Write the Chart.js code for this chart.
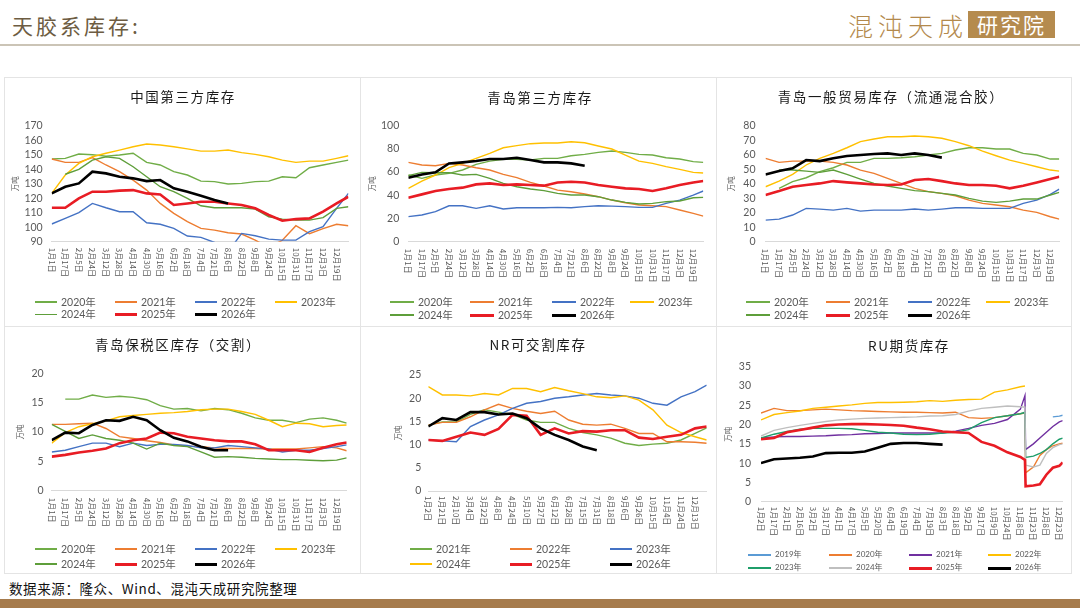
<!DOCTYPE html>
<html>
<head>
<meta charset="utf-8">
<script src="https://cdn.jsdelivr.net/npm/chart.js@4.4.1/dist/chart.umd.min.js"></script>
<style>
  body { margin: 0; width: 1080px; height: 608px; background: #fff; position: relative; overflow: hidden;
         font-family: "Noto Sans CJK SC", sans-serif; }
  .abs { position: absolute; }
  .ptitle { font-size: 13.5px; letter-spacing: 1.6px; color: #1a1a1a; text-align: center; width: 340px; line-height: 20px; white-space: nowrap; }
  .leg { font-family: Lato, "Noto Sans CJK SC", sans-serif; color: #595959; white-space: nowrap; }
  .hl { background: #e4e4e4; }
</style>
</head>
<body>
<div class="abs" style="left:12px;top:9px;font-size:21px;letter-spacing:3px;color:#6d5c42;line-height:32px;">天胶系库存:</div>
<div class="abs" style="left:848px;top:8px;font-size:25px;font-weight:300;letter-spacing:5px;color:#b3894c;line-height:34px;">混沌天成</div>
<div class="abs" style="left:968px;top:11px;width:87px;height:27px;background:#b58b4e;color:#fff;font-size:21px;line-height:27px;text-align:center;letter-spacing:2px;">研究院</div>
<div class="abs" style="left:0;top:44px;width:1080px;height:2px;background:#cbc4b6;"></div>

<div class="abs hl" style="left:4px;top:77px;width:1068px;height:1px;"></div>
<div class="abs hl" style="left:4px;top:573px;width:1068px;height:1px;"></div>
<div class="abs hl" style="left:4px;top:326px;width:1068px;height:1px;"></div>
<div class="abs hl" style="left:4px;top:77px;width:1px;height:497px;"></div>
<div class="abs hl" style="left:360px;top:77px;width:1px;height:497px;"></div>
<div class="abs hl" style="left:716px;top:77px;width:1px;height:497px;"></div>
<div class="abs hl" style="left:1071px;top:77px;width:1px;height:497px;"></div>

<div class="abs" style="left:9px;top:578px;font-size:13.5px;letter-spacing:0.6px;color:#111;line-height:20px;">数据来源：隆众、Wind、混沌天成研究院整理</div>
<div class="abs" style="left:0;top:599px;width:1080px;height:9px;background:#a67b4c;"></div>

<script>
// category labels
const LABELS_A = ['1月1日','1月17日','2月5日','2月24日','3月12日','3月28日','4月14日','4月30日','5月16日','6月2日','6月18日',
  '7月4日','7月21日','8月6日','8月22日','9月8日','9月24日','10月15日','10月31日','11月17日','12月3日','12月19日'];
const LABELS_NR = ['1月2日','1月21日','2月10日','3月4日','3月22日','4月8日','4月24日','5月10日','5月27日','6月12日','6月28日',
  '7月15日','7月31日','8月18日','9月6日','9月26日','10月15日','11月4日','11月24日','12月13日'];
const LABELS_RU = ['1月2日','1月17日','2月1日','2月16日','3月2日','3月17日','4月1日','4月17日','5月5日','5月20日','6月4日','6月19日',
  '7月4日','7月19日','8月3日','8月18日','9月2日','9月17日','10月9日','10月24日','11月8日','11月23日','12月8日','12月23日'];

// point positions on the label index axis (last one = year end)
const X_CN = [0,1,2,3,4,5,6,7,8,9,10,11,12,13,14,15,16,17,18,19,20,21,21.87];
const X_QD = [0,1,2,3,4,5,6,7,8,9,10,11,12,13,14,15,16,17,18,19,20,21,21.74];
const X_GM = [0,1,2,3,4,5,6,7,8,9,10,11,12,13,14,15,16,17,18,19,20,21,21.66];
const X_BS = [0,1,2,3,4,5,6,7,8,9,10,11,12,13,14,15,16,17,18,19,20,21,21.74];
const X_NR = [0,1,2,3,4,5,6,7,8,9,10,11,12,13,14,15,16,17,18,19,19.83];
const X_RU = [0,1,2,3,4,5,6,7,8,9,10,11,12,13,14,15,16,17,18,19,20,20.35,20.4,21,21.5,22,22.5,23,23.26];

// 中国第三方库存 (万吨)
const cn2020 = [147,147.5,150.5,150,149,149.8,151,144.7,142.9,138.3,136,131.8,131.4,129.8,130.2,131.4,131.8,134.8,134.1,141,142.9,144.7,146.3];
const cn2021 = [147,144.7,144.7,148,142.9,138.3,132.5,125.6,116.4,109.5,103.8,99.2,98,96.2,95.3,91.1,86,91,101,95.5,99,102,101];
const cn2022 = [102.2,106.1,110,116.4,113.4,110.7,110.7,103.1,102,99.2,93.9,93,89.5,83,95.7,94.1,91.8,91.1,91.1,96.9,100.3,113,123.3];
const cn2023 = [123.3,136,144,148.6,151,153.2,155.5,157.4,156.7,155.5,154,152.5,152.5,153.2,151.4,150.2,148.6,146.3,144.7,145.6,145.6,147.5,149.3];
const cn2024 = [null,136.5,139.9,146.3,148.6,147.5,141.7,134.8,127.9,124.5,119.9,114.8,113.4,113.4,113.4,112.5,107.2,105.6,104.9,104.9,106.6,113,114.1];
const cn2025 = [113.4,113.4,119.9,124.5,124.5,125.2,125.6,123.3,122.6,115.3,116.4,117.6,117.6,116.4,115.3,113,108.4,104.5,105.6,106.1,110.7,116.4,121];
const cn2026 = [123.3,127.9,130.2,138.3,137.1,134.8,133.7,131.8,132.5,126.8,124.5,121.7,118.7,116.4];

// 青岛第三方库存
const qd2020 = [57.5,54.6,57.5,58.9,61.8,66.7,69.5,71,71,70.4,71.8,71.8,74.1,75.3,77,78.2,77,75.3,74.7,72.4,71.3,69,68.4];
const qd2021 = [68.4,66.1,65.5,67.5,66.1,63.8,61.8,58,55.2,51.1,48,44.5,43.1,41.1,38.8,35.9,33.6,31.6,31,30.2,27.3,24.4,22.1];
const qd2022 = [21.6,23,25.9,31,31,28.7,31,28.2,29.3,29.3,29.3,29.6,29.3,30.2,31,30.7,30.2,29.6,29.6,33,35.9,40.2,43.7];
const qd2023 = [46,52.3,57.5,63.8,67.5,71.8,76.1,81,82.8,84.5,85.1,85.1,86.2,85.3,82.5,79.9,74.7,69.5,67.5,64.7,62.4,59.8,59.2];
const qd2024 = [57,59.8,59.5,59.5,57.5,58,54.6,50.3,47.4,45.4,44,41.7,40.2,40.2,38.8,35.9,33.9,32.5,33,34.5,35.1,37.9,38.2];
const qd2025 = [37.9,40.8,43.7,45.4,46.6,49.4,50.3,48.9,49.4,48.9,48.3,51.1,51.7,51.1,48.9,47.4,46,45.4,43.7,46,48.9,51.1,52.3];
const qd2026 = [55.2,58,59.8,67.5,68.4,69.5,71.3,71.3,72.4,70.4,68.4,68.4,67.5,65.5];

// 青岛一般贸易库存（流通混合胶）
const gm2020 = [null,36.8,41.4,44.1,48.3,51,54.7,54.7,57.5,57.5,57.9,58.6,59.8,60.9,63.2,64.8,64.8,63.9,63.9,60.9,59.8,57,57];
const gm2021 = [57.5,54.7,55.6,55.6,55.6,54.7,52.9,49.4,47.1,43.7,40.2,36.8,34.5,33.3,31.7,28.7,26.4,25.3,24.1,21.8,20.2,17.2,15.6];
const gm2022 = [14.9,15.6,18.4,23,22.5,21.8,23,21.1,21.8,21.8,21.8,22.5,21.8,22.5,23.4,23.4,23,23,23,26.4,28.7,32.6,36.3];
const gm2023 = [37.9,41.8,46.4,52.9,57.5,60.9,64.8,69,70.8,72.4,72.4,72.9,72.4,71.3,69,66.2,62.5,59.3,56.3,54,51.7,49.4,48.7];
const gm2024 = [null,49.5,49.4,48.7,47.8,49.4,46.4,43.2,40.2,38.4,36.8,35.2,34.5,33.3,32.2,29.9,28,27.1,28,29.4,29.4,32.2,34];
const gm2025 = [32.2,34.9,37.9,39.1,40.2,41.8,40.9,40.2,39.5,39.1,39.5,42.5,43.2,41.8,40.2,39.1,39.1,38.6,36.8,38.6,40.9,43.2,44.8];
const gm2026 = [46.4,48.7,50.6,56.3,55.6,57.5,59.1,59.8,60.5,60.9,59.8,60.9,59.8,58];

// 青岛保税区库存（交割）
const bs2020 = [null,15.6,15.6,16.3,15.9,16.1,15.9,15.5,14.5,13.9,14,13.6,14,13.8,13.2,12.4,12,12,11.6,12.2,12.4,12,11.5];
const bs2021 = [11.3,11.3,11.4,11.5,10.6,9.2,8.9,8.5,8.2,7.8,7.6,7.5,7.3,7.2,7.2,7.2,7.1,7.1,7.1,7.3,7.5,7.3,6.8];
const bs2022 = [6.6,6.9,7.5,8.1,8.1,7.5,8.1,7.7,7.9,7.9,7.7,7.3,7.3,7.7,7.5,7.3,7.1,6.6,6.9,6.9,7.2,7.5,7.8];
const bs2023 = [8.1,9.9,10.9,11.4,11.9,12.6,12.8,13,13.2,13.3,13.5,13.8,13.9,13.9,13.5,13,12,10.9,11.5,11.4,10.9,11.1,11.2];
const bs2024 = [11.3,10.1,8.9,9.5,8.9,8.6,8.1,7.1,8.1,7.7,7.5,6.6,5.7,5.8,5.7,5.5,5.4,5.3,5.3,5.2,5.1,5.2,5.6];
const bs2025 = [5.8,6.1,6.5,6.8,7.2,8.1,8.6,8.9,9.9,9.8,9.2,8.9,8.6,8.4,8.4,7.9,6.9,6.9,6.9,6.6,7.3,7.9,8.2];
const bs2026 = [8.6,9.9,9.8,11.2,12,11.9,12.6,12,10.3,9,8.4,7.5,6.9,6.9];

// NR可交割库存
const nr2021 = [14.2,14.9,14.9,16.5,17.5,17,16.5,15.3,14.8,14.8,13.5,12.6,12.1,11.4,10.3,9.8,10.1,10.3,11,12.4,13.6];
const nr2022 = [14.2,14.8,14.8,16,17.5,18.7,17.8,17.2,16.7,17.2,15.3,14.4,14.2,14.4,13.5,12.4,12.4,10.6,10.6,10.5,10.3];
const nr2023 = [11,10.8,10.6,13.9,15.3,16.4,17.8,18.9,19.3,20,20.3,20.7,21,20.7,20.5,20,18.9,18.5,20.3,21.4,22.8];
const nr2024 = [22.5,20.7,20.7,20.5,21,20.7,22.1,22.1,21.4,22.3,21.6,21,20.3,20.1,20.5,19.6,17.5,14.2,12.6,11.7,11];
const nr2025 = [11,10.8,11.7,12.6,12.1,13.4,16.4,16.2,12.1,13.5,12.4,12.9,12.8,13.1,13.1,11.5,11.2,11.7,12.1,13.5,13.9];
const nr2026 = [13.9,15.7,15.3,17,17,16.5,16.7,15.7,13.5,12.1,11,9.6,8.8];

// RU期货库存
const ru2019 = [null,null,null,null,null,null,null,null,null,null,null,null,null,null,null,null,null,null,null,null,null,null,null,null,null,null,22.0,22.2,22.4];
const ru2020 = [23.0,24.2,23.6,23.6,23.8,24.0,23.8,23.6,23.5,23.4,23.3,23.2,23.2,23.1,23.0,23.2,21.8,21.6,21.8,22.3,22.8,23.0,7.5,9.0,12.0,13.5,14.5,15.0,15.2];
const ru2021 = [16.5,16.8,16.9,16.9,17.0,17.1,17.3,17.4,17.6,17.7,17.8,17.8,17.8,17.8,17.8,18.3,19.0,19.8,20.3,21.3,24.0,27.5,13.5,15.0,16.5,18.0,19.5,20.7,21.0];
const ru2022 = [21.2,22.6,23.1,23.5,24.2,24.5,24.8,25.1,25.5,25.7,25.7,25.8,25.9,26.2,26.0,26.3,26.5,26.6,28.4,29.0,29.8,30.0];
const ru2023 = [16.5,17.5,18.2,18.8,19.0,19.0,19.0,18.9,18.5,18.0,17.8,17.5,17.4,17.5,17.8,18.0,18.7,20.5,21.8,22.3,22.8,23.2,11.5,11.8,12.5,13.5,15.0,16.2,16.5];
const ru2024 = [17.0,18.5,19.2,19.8,20.3,20.8,21.2,21.4,21.6,21.7,21.8,21.9,22.0,22.2,22.3,22.6,23.5,24.2,24.5,24.8,24.6,24.5,9.5,9.0,9.5,12.5,14.0,14.8,15.0];
const ru2025 = [16.2,16.5,18.0,18.6,19.2,19.8,20.0,20.1,20.1,20.0,19.9,19.7,19.2,18.8,18.2,18.0,17.8,15.5,14.5,12.8,11.6,10.8,4.0,4.2,4.5,7.0,8.8,9.3,10.2];
const ru2026 = [10.0,11.0,11.2,11.4,11.7,12.6,12.7,12.7,13.0,14.0,15.0,15.2,15.2,15.0,14.8];

const C = {
  g20: '#70ad47', g24: '#5e9e3a', o: '#ed7d31', b: '#4472c4', y: '#ffc000', r: '#e81c24', k: '#000000',
  lb: '#5b9bd5', pu: '#7030a0', teal: '#1f9e6a', gray: '#bfbfbf'
};

const yearSeries = (a) => [
  { name: '2020年', color: C.g20, data: a[0] },
  { name: '2021年', color: C.o, data: a[1] },
  { name: '2022年', color: C.b, data: a[2] },
  { name: '2023年', color: C.y, data: a[3] },
  { name: '2024年', color: C.g24, data: a[4] },
  { name: '2025年', color: C.r, data: a[5], thick: true },
  { name: '2026年', color: C.k, data: a[6], thick: true }
];

const legend4 = (x0, rows) => ({ cols: [x0, x0 + 80, x0 + 160, x0 + 240], rows: rows, len: 22, font: 10.5 });

const panels = [
  { box: [5, 77, 355, 249], plot: [51.7, 125.7, 348.4, 241.7], title: '中国第三方库存', tc: [183, 96],
    yMin: 90, yMax: 170, yStep: 10, yPad: 9, yTitleX: 15, labels: LABELS_A, xs: X_CN, gap: 6,
    series: yearSeries([cn2020, cn2021, cn2022, cn2023, cn2024, cn2025, cn2026]), legend: legend4(35, [302, 314.5]) },
  { box: [360, 77, 356, 249], plot: [408.3, 125.7, 703.3, 241.7], title: '青岛第三方库存', tc: [540, 97],
    yMin: 0, yMax: 100, yStep: 20, yPad: 9, yTitleX: 372, labels: LABELS_A, xs: X_QD, gap: 7,
    series: yearSeries([qd2020, qd2021, qd2022, qd2023, qd2024, qd2025, qd2026]), legend: { cols: [390, 470, 552, 630], rows: [302, 315], len: 24, font: 10.5 } },
  { box: [716, 77, 355, 249], plot: [765.5, 125.7, 1059.3, 241.7], title: '青岛一般贸易库存（流通混合胶）', tc: [891, 96],
    yMin: 0, yMax: 80, yStep: 10, yPad: 10, yTitleX: 731, labels: LABELS_A, xs: X_GM, gap: 7,
    series: yearSeries([gm2020, gm2021, gm2022, gm2023, gm2024, gm2025, gm2026]), legend: { cols: [746, 826, 908, 986], rows: [302, 315], len: 24, font: 10.5 } },
  { box: [5, 326, 355, 247], plot: [51.7, 373.3, 346.7, 490.7], title: '青岛保税区库存（交割）', tc: [178, 344],
    yMin: 0, yMax: 20, yStep: 5, yPad: 8, yTitleX: 20, labels: LABELS_A, xs: X_BS, gap: 7,
    series: yearSeries([bs2020, bs2021, bs2022, bs2023, bs2024, bs2025, bs2026]), legend: legend4(35, [549, 564]) },
  { box: [360, 326, 356, 247], plot: [428.3, 375, 706.7, 491], title: 'NR可交割库存', tc: [538, 344],
    yMin: 0, yMax: 25, yStep: 5, yPad: 7, yTitleX: 398, labels: LABELS_NR, xs: X_NR, gap: 5,
    series: [
      { name: '2021年', color: C.g20, data: nr2021 },
      { name: '2022年', color: C.o, data: nr2022 },
      { name: '2023年', color: C.b, data: nr2023 },
      { name: '2024年', color: C.y, data: nr2024 },
      { name: '2025年', color: C.r, data: nr2025, thick: true },
      { name: '2026年', color: C.k, data: nr2026, thick: true }
    ], legend: { cols: [410, 510, 610], rows: [549, 564], len: 22, font: 10.5 } },
  { box: [716, 326, 355, 247], plot: [761, 366.7, 1062.7, 501.7], title: 'RU期货库存', tc: [909, 345],
    yMin: 0, yMax: 35, yStep: 5, yPad: 10, yTitleX: 728, labels: LABELS_RU, xs: X_RU, gap: 5,
    series: [
      { name: '2019年', color: C.lb, data: ru2019 },
      { name: '2020年', color: C.o, data: ru2020 },
      { name: '2021年', color: C.pu, data: ru2021 },
      { name: '2022年', color: C.y, data: ru2022 },
      { name: '2023年', color: C.teal, data: ru2023 },
      { name: '2024年', color: C.gray, data: ru2024 },
      { name: '2025年', color: C.r, data: ru2025, thick: true },
      { name: '2026年', color: C.k, data: ru2026, thick: true }
    ], legend: { cols: [748, 829, 909, 988], rows: [555, 568], len: 23, font: 8 } }
];

// vertical date labels (reading downwards) and the 万吨 axis title
const axisText = {
  id: 'axisText',
  afterDraw(chart, args, opts) {
    const { ctx, chartArea } = chart;
    const x = chart.scales.x;
    ctx.save();
    ctx.fillStyle = '#595959';
    ctx.font = '8px "Noto Sans CJK SC"';
    ctx.textAlign = 'left';
    ctx.textBaseline = 'middle';
    opts.labels.forEach((lab, i) => {
      ctx.save();
      ctx.translate(x.getPixelForValue(i), chartArea.bottom + opts.gap);
      ctx.rotate(Math.PI / 2);
      ctx.fillText(lab, 0, 0);
      ctx.restore();
    });
    ctx.font = '7.5px "Noto Sans CJK SC"';
    ctx.textAlign = 'center';
    ctx.translate(opts.titleX, (chartArea.top + chartArea.bottom) / 2);
    ctx.rotate(-Math.PI / 2);
    ctx.fillText('万吨', 0, 0);
    ctx.restore();
  }
};

function place(el, x, y) {
  el.style.left = x + 'px';
  el.style.top = y + 'px';
  document.body.appendChild(el);
}

panels.forEach((p) => {
  const [bx, by, bw, bh] = p.box;
  const [pl, pt, pr, pb] = p.plot;

  const wrap = document.createElement('div');
  wrap.className = 'abs';
  wrap.style.width = bw + 'px';
  wrap.style.height = bh + 'px';
  const cv = document.createElement('canvas');
  cv.width = bw; cv.height = bh;
  cv.style.width = bw + 'px'; cv.style.height = bh + 'px';
  wrap.appendChild(cv);
  place(wrap, bx, by);

  const title = document.createElement('div');
  title.className = 'abs ptitle';
  title.textContent = p.title;
  place(title, p.tc[0] - 170, p.tc[1] - 10);

  const n = p.series.length;
  const datasets = p.series.map((s, i) => ({
    label: s.name,
    data: s.data.map((v, j) => ({ x: p.xs[j], y: v })),
    borderColor: s.color,
    borderWidth: s.thick ? 2.6 : 1.4,
    pointRadius: 0,
    tension: 0,
    spanGaps: false,
    order: n - i
  }));

  new Chart(cv, {
    type: 'line',
    data: { datasets },
    plugins: [axisText],
    options: {
      responsive: false,
      animation: false,
      events: [],
      layout: { padding: { left: 0, top: pt - by, right: bx + bw - pr, bottom: 0 } },
      plugins: {
        legend: { display: false },
        tooltip: { enabled: false },
        axisText: { labels: p.labels, gap: p.gap, titleX: p.yTitleX - bx }
      },
      scales: {
        x: {
          type: 'linear', min: 0, max: p.xs[p.xs.length - 1],
          ticks: { display: false },
          grid: { display: false },
          border: { display: true, color: '#d9d9d9', width: 1 },
          afterFit: (s) => { s.height = by + bh - pb; }
        },
        y: {
          min: p.yMin, max: p.yMax,
          ticks: { stepSize: p.yStep, autoSkip: false, color: '#595959', padding: p.yPad, font: { family: 'Lato', size: 10.5 } },
          grid: { display: false, drawTicks: false },
          border: { display: false },
          afterFit: (s) => { s.width = pl - bx; }
        }
      }
    }
  });

  // legend
  const L = p.legend;
  p.series.forEach((s, i) => {
    const col = i % L.cols.length, row = Math.floor(i / L.cols.length);
    const lx = L.cols[col], ly = L.rows[row];
    const lw = s.thick ? 3 : 1.6;
    const line = document.createElement('div');
    line.className = 'abs';
    line.style.width = L.len + 'px';
    line.style.height = lw + 'px';
    line.style.background = s.color;
    place(line, lx, ly - lw / 2);
    const t = document.createElement('div');
    t.className = 'abs leg';
    t.textContent = s.name;
    t.style.fontSize = L.font + 'px';
    t.style.lineHeight = (L.font * 1.4) + 'px';
    place(t, lx + L.len + 4, ly - L.font * 0.7);
  });
});
</script>
</body>
</html>
